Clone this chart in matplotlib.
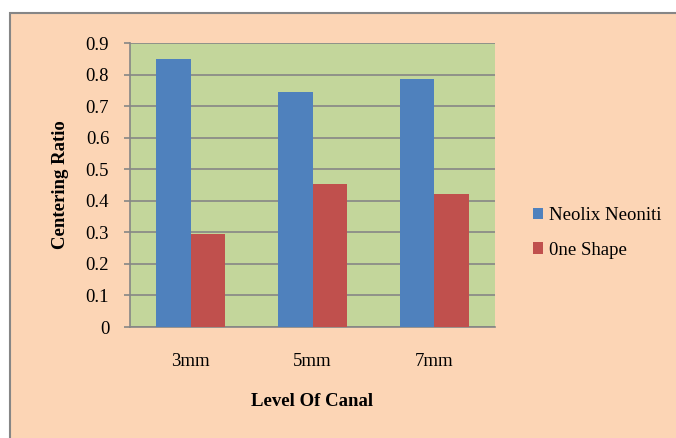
import numpy as np
import matplotlib.pyplot as plt
from matplotlib.patches import Rectangle

categories = ['3mm', '5mm', '7mm']
neolix = [0.85, 0.745, 0.787]
one_shape = [0.294, 0.452, 0.421]
series_names = ['Neolix Neoniti', '0ne Shape']

plt.rcParams['font.family'] = ['Liberation Serif', 'DejaVu Serif']

W, H = 676, 438
fig = plt.figure(figsize=(W / 100, H / 100), dpi=100)
fig.patch.set_facecolor('white')

# peach chart area with grey border (runs off the right/bottom edge)
fig.patches.append(Rectangle((10 / W, -0.05), 1.0, 1 - 13 / H + 0.05,
                             transform=fig.transFigure, facecolor='#FCD5B5',
                             edgecolor='#868686', linewidth=1.5, zorder=-5))

ax = fig.add_axes([130 / W, 1 - 327 / H, 365 / W, 284 / H])
ax.set_facecolor('#C3D69B')

x = np.arange(len(categories))
width = 0.284
ax.bar(x - width / 2, neolix, width, color='#4F81BD', label=series_names[0], zorder=3)
ax.bar(x + width / 2, one_shape, width, color='#C0504D', label=series_names[1], zorder=3)

ax.set_xlim(-0.5, 2.5)
ax.set_ylim(0, 0.9)
ax.set_yticks(np.arange(0, 0.91, 0.1))
ax.set_yticklabels(['0'] + [f'{v:.1f}' for v in np.arange(0.1, 0.91, 0.1)])
ax.set_xticks(x)
ax.set_xticklabels(categories)
ax.grid(axis='y', color='#868686', linewidth=1.2, zorder=1)
ax.set_axisbelow(True)

for side in ['top', 'right']:
    ax.spines[side].set_visible(False)
for side in ['left', 'bottom']:
    ax.spines[side].set_color('#868686')
    ax.spines[side].set_linewidth(1.2)
ax.tick_params(axis='y', length=4, color='#868686', width=1.2, labelsize=13.5, pad=11)
ax.tick_params(axis='x', length=0, labelsize=13.5, pad=19)

ax.set_ylabel('Centering Ratio', fontsize=13.5, fontweight='bold', labelpad=12)
ax.set_xlabel('Level Of Canal', fontsize=13.5, fontweight='bold', labelpad=16)

fig.legend(loc='upper left', bbox_to_anchor=(516 / W, 1 - 190 / H), frameon=False,
           fontsize=13.5, handlelength=0.55, handleheight=0.55, handletextpad=0.3,
           labelspacing=0.95)

fig.savefig('out.png', dpi=100)
